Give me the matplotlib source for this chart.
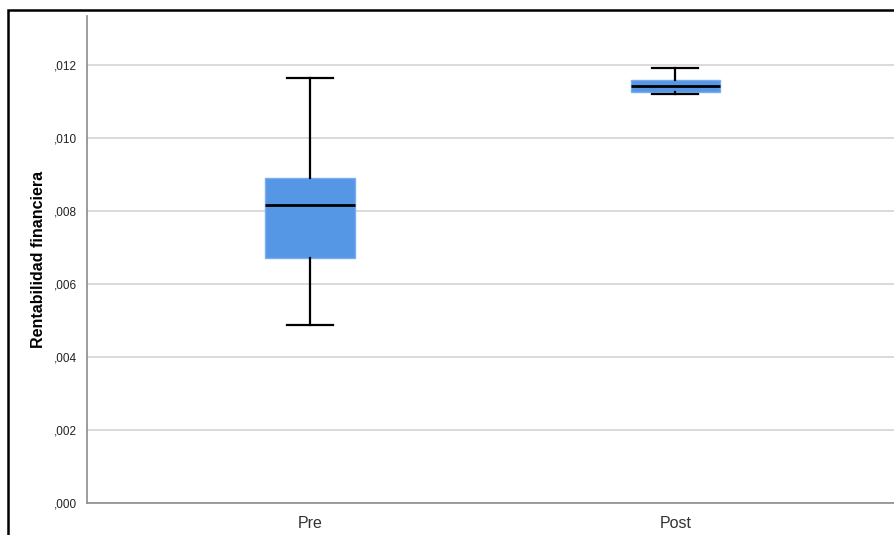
import matplotlib
matplotlib.use("Agg")
import matplotlib.pyplot as plt
from matplotlib.patches import Rectangle
from matplotlib.ticker import FuncFormatter

categories = ["Pre", "Post"]
whisker_low = [0.00488, 0.01120]
q1 = [0.00671, 0.01127]
median = [0.00816, 0.01142]
q3 = [0.00890, 0.01159]
whisker_high = [0.01164, 0.01191]
yticks = [0.000, 0.002, 0.004, 0.006, 0.008, 0.010, 0.012]

plt.rcParams["font.family"] = ["Liberation Sans", "DejaVu Sans"]

fig = plt.figure(figsize=(8.95, 5.35), dpi=100)
W, H = 895, 535
ax = fig.add_axes([87 / W, (H - 503) / H, (W - 87) / W, (503 - 16) / H])

stats = []
for i, c in enumerate(categories):
    stats.append(dict(label=c, whislo=whisker_low[i], q1=q1[i], med=median[i],
                      q3=q3[i], whishi=whisker_high[i], fliers=[]))

ax.bxp(stats, positions=[1, 2], widths=0.246, patch_artist=True, showfliers=False,
       boxprops=dict(facecolor="#5596e5", edgecolor="#7aaef0", linewidth=1.0),
       medianprops=dict(color="black", linewidth=2.0),
       whiskerprops=dict(color="black", linewidth=1.6),
       capprops=dict(color="black", linewidth=1.6),
       capwidths=0.126, zorder=3)

ax.set_xlim(0.389, 2.601)
ax.set_ylim(0, 0.01334)
ax.set_yticks(yticks)
ax.yaxis.set_major_formatter(FuncFormatter(lambda v, p: ("%.3f" % v).replace("0.", ",", 1)))
ax.grid(axis="y", color="#d4d4d4", linewidth=1.2, zorder=0)
ax.set_axisbelow(True)

for s in ["top", "right"]:
    ax.spines[s].set_visible(False)
for s in ["left", "bottom"]:
    ax.spines[s].set_color("#8c8c8c")
    ax.spines[s].set_linewidth(1.2)

ax.tick_params(axis="y", length=0, pad=7, labelsize=8.5, labelcolor="#222222")
ax.tick_params(axis="x", length=0, pad=9, labelsize=11.5, labelcolor="#333333")
ax.set_ylabel("Rentabilidad financiera", fontsize=11.5, fontweight="bold", labelpad=6)

fig.patches.append(Rectangle((8 / W, -0.5), 2.0, (H - 10) / H + 0.5,
                             transform=fig.transFigure, fill=False,
                             edgecolor="black", linewidth=1.8, zorder=10))

fig.savefig("out.png", dpi=100)
